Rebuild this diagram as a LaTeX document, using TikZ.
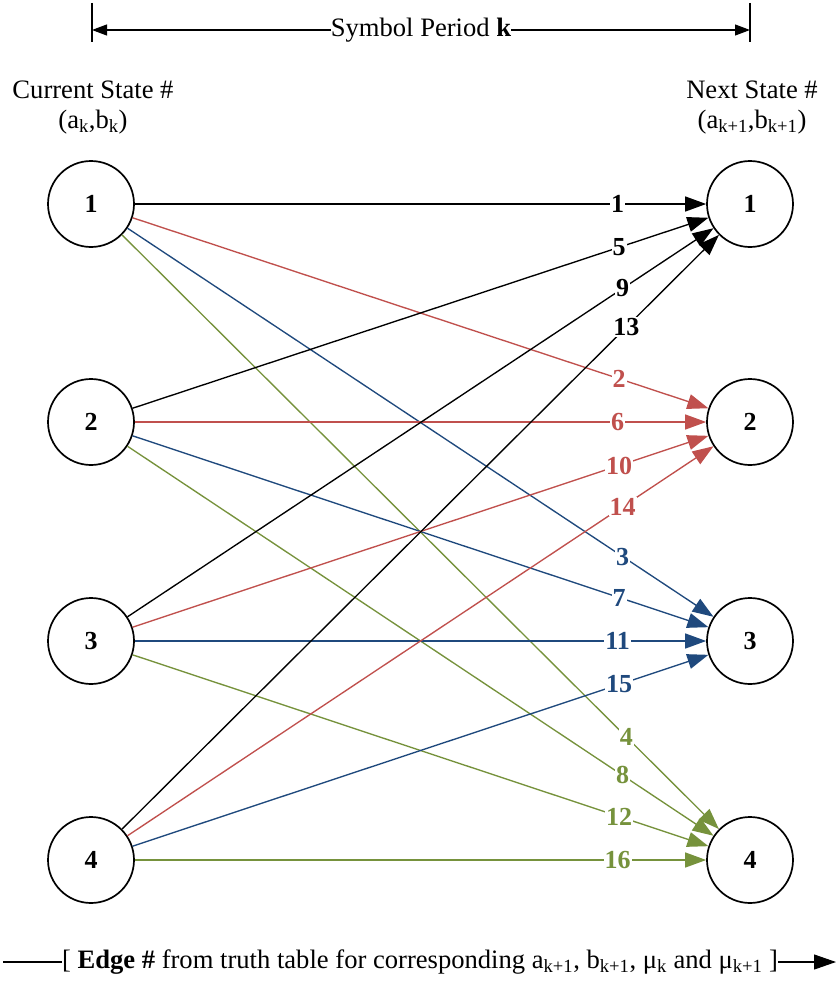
\documentclass[tikz,border=0pt]{standalone}
\usepackage{fontspec}
\setmainfont{Liberation Serif}
\usetikzlibrary{arrows.meta}
\definecolor{ered}{RGB}{192,80,77}
\definecolor{eblue}{RGB}{31,73,125}
\definecolor{egreen}{RGB}{118,146,60}
\begin{document}
\begin{tikzpicture}[x=1pt,y=-1pt,
  state/.style={circle,draw,line width=1.7pt,minimum size=86pt,inner sep=0pt,font=\fontsize{26}{30}\selectfont\bfseries},
  edgearrow/.style={line width=1.35pt,-{Triangle[length=21pt,width=15pt]}},
  elab/.style={fill=white,inner sep=1pt,pos=0.845,font=\fontsize{26}{30}\selectfont\bfseries},
  txt/.style={font=\fontsize{26.6}{30}\selectfont,inner sep=0pt}]
\useasboundingbox (0,0) rectangle (838,982);
% states
\foreach \i/\y in {1/204,2/422,3/641,4/860}{
  \node[state] (L\i) at (91,\y) {\i};
  \node[state] (R\i) at (750,\y) {\i};
}
% edges
\foreach \i in {1,...,4}{
  \foreach \j/\c in {1/black,2/ered,3/eblue,4/egreen}{
    \pgfmathtruncatemacro\n{(\i-1)*4+\j}
    \draw[edgearrow,color=\c] (L\i) -- node[elab,text=\c]{\n} (R\j);
  }
}
% top
\coordinate (tl1) at (92,3);
\coordinate (tl2) at (92,42);
\coordinate (tr1) at (750,3);
\coordinate (tr2) at (750,42);
\coordinate (al) at (92,30);
\coordinate (ar) at (750,30);
\draw[line width=1.1pt] (tl1) -- (tl2);
\draw[line width=1.1pt] (tr1) -- (tr2);
\node[txt] (sym) at (421,30) {Symbol Period \textbf{k}};
\draw[line width=1.1pt,-{Triangle[length=15pt,width=11pt]}] (sym.west) -- (al);
\draw[line width=1.1pt,-{Triangle[length=15pt,width=11pt]}] (sym.east) -- (ar);
\node[txt] (cs) at (93,90) {Current State \#};
\node[txt] (csab) at (93,122) {(a\textsubscript{k},b\textsubscript{k})};
\node[txt] (ns) at (752,90) {Next State \#};
\node[txt] (nsab) at (752,122) {(a\textsubscript{k+1},b\textsubscript{k+1})};
% bottom
\node[txt] (bot) at (420,962) {[ \textbf{Edge \#} from truth table for corresponding a\textsubscript{k+1}, b\textsubscript{k+1}, μ\textsubscript{k} and μ\textsubscript{k+1} ]};
\coordinate (bl) at (3,962);
\coordinate (br) at (836,962);
\draw[line width=1.1pt] (bl) -- (bot.west);
\draw[line width=1.1pt,-{Triangle[length=22pt,width=15pt]}] (bot.east) -- (br);
\end{tikzpicture}
\end{document}
